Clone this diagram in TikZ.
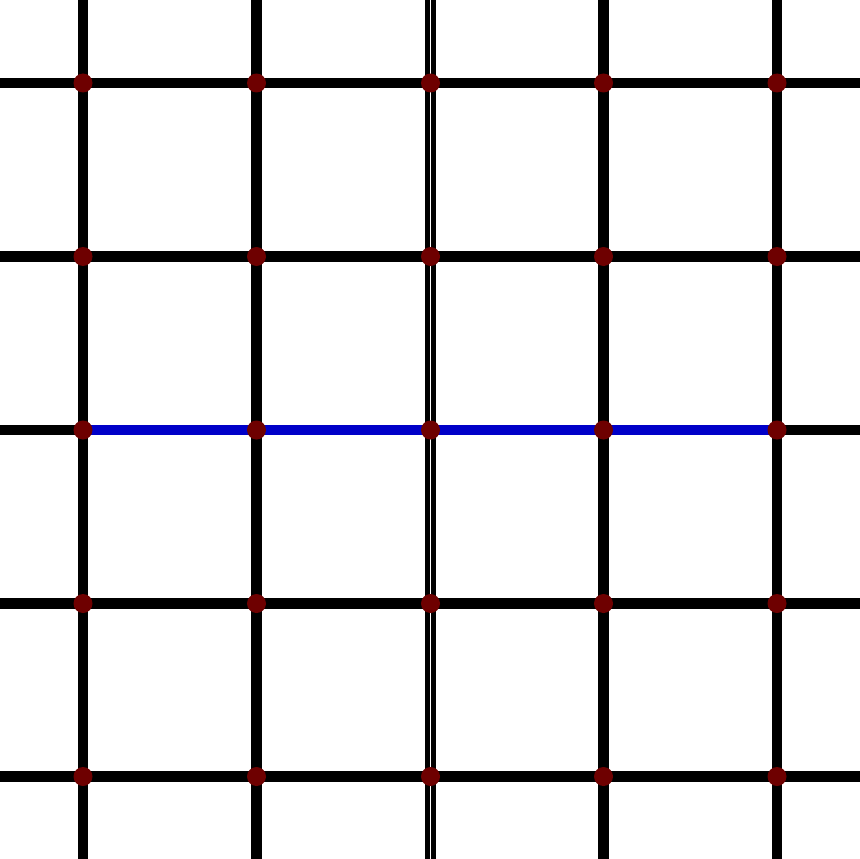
\documentclass[tikz,border=0pt]{standalone}
\definecolor{dotred}{RGB}{110,0,0}
\definecolor{lineblue}{RGB}{0,0,200}
\begin{document}
\begin{tikzpicture}[x=1pt,y=-1pt,
  gridline/.style={line width=10.5pt,black},
  dblline/.style={line width=4.8pt,black,double=white,double distance=1.2pt},
  blueline/.style={line width=10.5pt,lineblue},
  dotnode/.style={circle,fill=dotred,inner sep=0pt,minimum size=19pt}]
\useasboundingbox (0,0) rectangle (860,859);
\foreach \y/\n in {83/1,256.5/2,430/3,603.5/4,776.5/5}{
  \coordinate (L\n) at (0,\y);
  \coordinate (R\n) at (860,\y);
  \draw[gridline] (L\n) -- (R\n);
}
\foreach \x/\n in {83/1,256.5/2,603.5/4,777/5}{
  \coordinate (T\n) at (\x,0);
  \coordinate (B\n) at (\x,859);
  \draw[gridline] (T\n) -- (B\n);
}
\coordinate (T3) at (430.5,0);
\coordinate (B3) at (430.5,859);
\draw[dblline] (T3) -- (B3);
\foreach \x/\i in {83/1,256.5/2,430.5/3,603.5/4,777/5}{
  \foreach \y/\j in {83/1,256.5/2,430/3,603.5/4,776.5/5}{
    \coordinate (P\i\j) at (\x,\y);
  }
}
\draw[blueline] (P13) -- (P53);
\foreach \i in {1,...,5}{
  \foreach \j in {1,...,5}{
    \node[dotnode] (D\i\j) at (P\i\j) {};
  }
}
\end{tikzpicture}
\end{document}
